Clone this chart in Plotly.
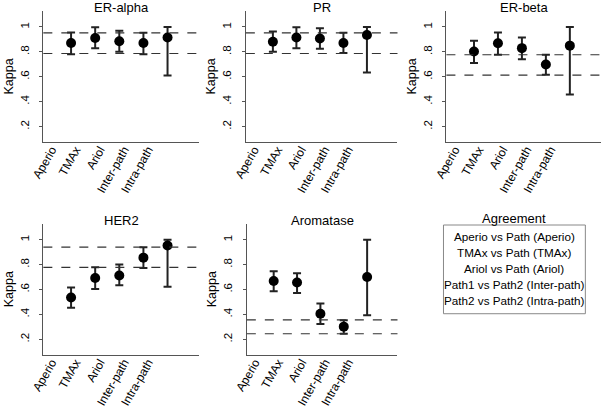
import plotly.graph_objects as go

methods = ['Aperio', 'TMAx', 'Ariol', 'Inter-path', 'Intra-path']
positions = [1, 2, 3, 4, 5]

panels = ['ER-alpha', 'PR', 'ER-beta', 'HER2', 'Aromatase']

# kappa estimates and 95% CI for each marker
kappa = {
    'ER-alpha': [0.872, 0.911, 0.885, 0.872, 0.916],
    'PR': [0.882, 0.916, 0.908, 0.872, 0.935],
    'ER-beta': [0.803, 0.869, 0.830, 0.698, 0.850],
    'HER2': [0.536, 0.692, 0.713, 0.856, 0.953],
    'Aromatase': [0.669, 0.656, 0.406, 0.302, 0.700],
}
ci_low = {
    'ER-alpha': [0.780, 0.830, 0.800, 0.780, 0.610],
    'PR': [0.800, 0.830, 0.826, 0.790, 0.635],
    'ER-beta': [0.710, 0.777, 0.740, 0.617, 0.457],
    'HER2': [0.453, 0.604, 0.635, 0.773, 0.622],
    'Aromatase': [0.586, 0.573, 0.323, 0.245, 0.393],
}
ci_high = {
    'ER-alpha': [0.956, 0.998, 0.970, 0.953, 1.000],
    'PR': [0.963, 0.998, 0.990, 0.953, 1.000],
    'ER-beta': [0.890, 0.956, 0.916, 0.777, 1.000],
    'HER2': [0.617, 0.778, 0.800, 0.940, 1.000],
    'Aromatase': [0.747, 0.731, 0.487, 0.354, 1.000],
}
# dashed reference lines
ref_lines = {
    'ER-alpha': [0.953, 0.787],
    'PR': [0.953, 0.787],
    'ER-beta': [0.777, 0.614],
    'HER2': [0.940, 0.778],
    'Aromatase': [0.356, 0.245],
}

legend_title = 'Agreement'
legend_items = ['Aperio vs Path (Aperio)', 'TMAx vs Path (TMAx)',
                'Ariol vs Path (Ariol)', 'Path1 vs Path2 (Inter-path)',
                'Path2 vs Path2 (Intra-path)']

W, H = 601, 408
# pixel boxes: left, right, top, bottom
boxes = [(31, 190, 11, 145), (238, 393, 11, 145), (443, 601, 11, 145),
         (31, 190, 228, 362), (239, 393, 228, 362)]

font = 'Liberation Sans, Arial, sans-serif'
fig = go.Figure()
layout = dict(width=W, height=H, margin=dict(l=0, r=0, t=0, b=0),
              paper_bgcolor='white', plot_bgcolor='white', showlegend=False,
              font=dict(family=font, color='black'))
annotations = []
shapes = []

for i, name in enumerate(panels):
    n = '' if i == 0 else str(i + 1)
    l, r, t, b = boxes[i]
    ys = kappa[name]
    fig.add_trace(go.Scatter(
        x=positions, y=ys, mode='markers', xaxis='x' + n, yaxis='y' + n,
        marker=dict(color='black', size=10),
        error_y=dict(type='data', symmetric=False,
                     array=[h - v for h, v in zip(ci_high[name], ys)],
                     arrayminus=[v - lo for v, lo in zip(ys, ci_low[name])],
                     color='#222', thickness=2, width=4)))
    layout['xaxis' + n] = dict(
        domain=[l / W, r / W], anchor='y' + n, range=[-0.15, 6.3],
        tickvals=[p - 0.8 for p in positions], ticktext=methods,
        tickangle=-60, ticks='', showgrid=False, zeroline=False,
        showline=True, linecolor='#555', linewidth=1,
        ticklabelstandoff=-5, tickfont=dict(size=12))
    layout['yaxis' + n] = dict(
        domain=[1 - b / H, 1 - t / H], anchor='x' + n, range=[0.075, 1.13],
        tickvals=[0.2, 0.4, 0.6, 0.8, 1.0],
        ticktext=['.2', '.4', '.6', '.8', '1'], tickangle=-90,
        ticks='outside', ticklen=3, tickcolor='#555', ticklabelstandoff=6,
        showgrid=False, zeroline=False, showline=True,
        linecolor='#555', linewidth=1, tickfont=dict(size=11.5),
        title=dict(text='Kappa', font=dict(size=12.5), standoff=2))
    for v in ref_lines[name]:
        shapes.append(dict(type='line', xref='x' + n + ' domain', yref='y' + n,
                           x0=0, x1=1, y0=v, y1=v,
                           line=dict(color='#333', width=1.2, dash='dash')))
    annotations.append(dict(text=name, x=(l + r) / 2 / W, y=1 - (t - 3) / H,
                            xref='paper', yref='paper', xanchor='center',
                            yanchor='middle', showarrow=False,
                            font=dict(size=13)))

# legend box with its title and rows
annotations.append(dict(text=legend_title, x=512 / W, y=1 - 222.5 / H,
                        xref='paper', yref='paper', xanchor='center',
                        yanchor='middle', showarrow=False, font=dict(size=13)))
for k, item in enumerate(legend_items):
    annotations.append(dict(text=item, x=512.5 / W, y=1 - (241 + 16.4 * k) / H,
                            xref='paper', yref='paper', xanchor='center',
                            yanchor='middle', showarrow=False,
                            font=dict(size=11.7)))
shapes.append(dict(type='rect', xref='paper', yref='paper',
                   x0=440 / W, x1=585 / W, y0=1 - 320 / H, y1=1 - 229.5 / H,
                   line=dict(color='#888', width=1)))

layout['annotations'] = annotations
layout['shapes'] = shapes
fig.update_layout(**layout)
# drop the default page margin so the figure sits at the window corner
fig.write_html('out.html', config={'displayModeBar': False},
               post_script="document.body.style.margin='0';")
